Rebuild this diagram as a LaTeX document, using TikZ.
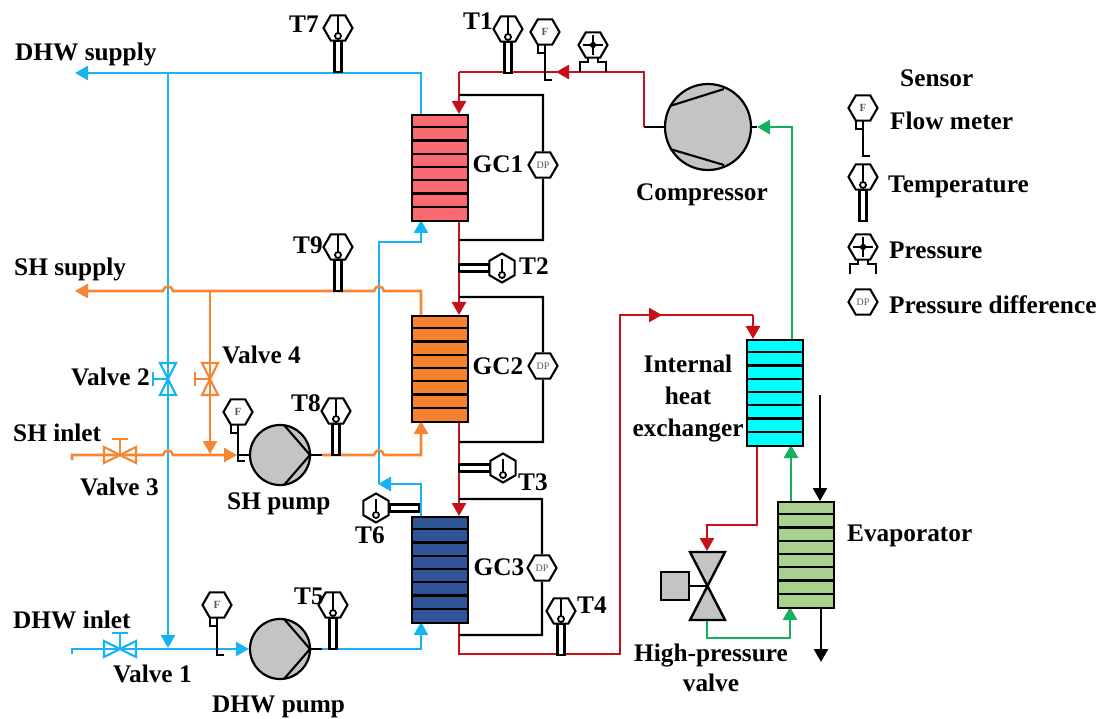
\documentclass[tikz,border=0pt]{standalone}
\usepackage{fontspec}
\setmainfont{Liberation Serif}
\usetikzlibrary{arrows.meta,shapes.geometric,backgrounds}
\definecolor{cblue}{HTML}{16B4F2}
\definecolor{corange}{HTML}{F58634}
\definecolor{cred}{HTML}{C8101A}
\definecolor{cgreen}{HTML}{14B060}
\definecolor{cgray}{HTML}{C4C4C4}
\definecolor{hxa}{HTML}{F96B70}
\definecolor{hxb}{HTML}{F6812E}
\definecolor{hxc}{HTML}{2F5597}
\definecolor{hxd}{HTML}{00FFFF}
\definecolor{hxe}{HTML}{A9D18E}
\tikzset{
  pipe/.style={line width=2.6pt,line join=miter,-{Triangle[width=14pt,length=13pt]}},
  plain/.style={line width=2.6pt,line join=miter},
  wire/.style={line width=2.1pt,black,line join=miter},
  lbl/.style={font=\bfseries\fontsize{25.3}{25.3}\selectfont,inner sep=0pt,text height=21pt,text depth=5pt,text=black},
  hexnode/.style={regular polygon,regular polygon sides=6,draw=black,fill=white,line width=2.1pt,minimum size=29pt,inner sep=0pt,font=\fontsize{10}{10}\selectfont,text=black!65},
  hexup/.style={hexnode,regular polygon rotate=30},
  hxbox/.style={draw=black,line width=2.4pt,minimum width=56pt,minimum height=106pt,anchor=north west,inner sep=0pt},
  pumpnode/.style={circle,draw=black,fill=cgray,line width=2.2pt,inner sep=0pt},
  boxnode/.style={rectangle,draw=black,fill=cgray,line width=2.2pt,minimum width=28pt,minimum height=28pt,inner sep=0pt},
  hopl/.style 2 args={insert path={-- (#1+5,#2) .. controls (#1+4,#2-6) and (#1-4,#2-6) .. (#1-5,#2)}},
  hopr/.style 2 args={insert path={-- (#1-5,#2) .. controls (#1-4,#2-6) and (#1+4,#2-6) .. (#1+5,#2)}},
}
% exchanger: name, left, top, colour
\newcommand{\exch}[4]{%
  \node[hxbox,fill=#4] (#1) at (#2,#3) {};
  \foreach \k in {1,...,7}{\draw[line width=2.1pt,black] (#2,#3+13.25*\k) -- (#2+56,#3+13.25*\k);}
}
% temperature sensor, vertical stem: name, x, bottom y
\newcommand{\tempV}[3]{%
  \draw[wire,fill=white] (#2-3.5,#3) rectangle (#2+3.5,#3-31);
  \node[hexnode] (#1) at (#2,#3-44) {};
  \draw[wire,line width=1.8pt] (#2,#3-56) -- (#2,#3-38);
  \draw[wire,line width=1.8pt,fill=white] (#2,#3-36) circle (3pt);
}
% temperature sensor, horizontal stem: name, hex x, y, stem start x, stem end x
\newcommand{\tempH}[5]{%
  \draw[wire,fill=white] (#4,#3-3.5) rectangle (#5,#3+3.5);
  \node[hexup] (#1) at (#2,#3) {};
  \draw[wire,line width=1.8pt] (#2,#3-9) -- (#2,#3+5);
  \draw[wire,line width=1.8pt,fill=white] (#2,#3+7) circle (3pt);
}
% flow meter: name, x, y, foot y
\newcommand{\flowm}[4]{%
  \draw[wire,line width=1.8pt,fill=white] (#2-7,#3+12) rectangle (#2,#3+21);
  \draw[wire] (#2,#3+12) -- (#2,#4) -- (#2+7,#4);
  \node[hexnode,font=\bfseries\fontsize{11}{11}\selectfont] (#1) at (#2,#3) {F};
}
% pressure sensor: name, x, y
\newcommand{\presm}[3]{%
  \draw[wire] (#2-13,#3+27) -- (#2-13,#3+17) -- (#2-5,#3+17) -- (#2-5,#3+11);
  \draw[wire] (#2+13,#3+27) -- (#2+13,#3+17) -- (#2+5,#3+17) -- (#2+5,#3+11);
  \node[hexnode] (#1) at (#2,#3) {};
  \draw[black,line width=2.4pt] (#2-10,#3) -- (#2+10,#3);
  \draw[black,line width=2.4pt] (#2,#3-10) -- (#2,#3+10);
  \fill[black] (#2-4,#3) -- (#2,#3-4) -- (#2+4,#3) -- (#2,#3+4) -- cycle;
}
% valves: name, x, y, colour
\newcommand{\valveH}[4]{%
  \coordinate (#1) at (#2,#3);
  \draw[#4,line width=2.2pt] (#2-16,#3-8) -- (#2+16,#3+8) -- (#2+16,#3-8) -- (#2-16,#3+8) -- cycle;
  \draw[#4,line width=2.2pt] (#2,#3) -- (#2,#3-16) (#2-8,#3-16) -- (#2+8,#3-16);
}
\newcommand{\valveV}[4]{%
  \coordinate (#1) at (#2,#3);
  \draw[#4,line width=2.2pt] (#2-8,#3-16) -- (#2+8,#3+16) -- (#2-8,#3+16) -- (#2+8,#3-16) -- cycle;
  \draw[#4,line width=2.2pt] (#2,#3) -- (#2-15,#3) (#2-15,#3-7) -- (#2-15,#3+7);
}
\begin{document}
\begin{tikzpicture}[x=1pt,y=-1pt]
\useasboundingbox (0,0) rectangle (1101,719);

% exchangers
\exch{GC1}{411}{114}{hxa}
\exch{GC2}{411}{315}{hxb}
\exch{GC3}{411}{516}{hxc}
\exch{IHX}{746}{339}{hxd}
\exch{EVA}{777}{501}{hxe}

% rotating machines
\node[pumpnode,minimum size=86pt] (COMP) at (708,127) {};
\draw[wire] (670,106) -- (724,89) (670,149) -- (724,165);
\node[pumpnode,minimum size=60pt] (SHP) at (280,455) {};
\draw[wire] (310,455) -- (284,425) (310,455) -- (284,485);
\node[pumpnode,minimum size=60pt] (DHWP) at (280,649) {};
\draw[wire] (310,649) -- (284,619) (310,649) -- (284,679);

% high-pressure valve
\coordinate (HPV) at (707,586);
\draw[black,line width=2.4pt,fill=cgray,line join=miter] (690,552) -- (725,620) -- (690,620) -- (725,552) -- cycle;
\node[boxnode] (HPB) at (675,586) {};
\draw[wire] (HPB.east) -- (HPV);

% sensors
\tempV{T7s}{338}{72}
\tempV{T1s}{508}{73}
\tempV{T9s}{338}{291}
\tempV{T8s}{336}{455}
\tempV{T5s}{333}{649}
\tempV{T4s}{561}{655}
\tempH{T2s}{502}{268}{459}{489}
\tempH{T3s}{503}{468}{459}{490}
\tempH{T6s}{376}{508}{390}{419}
\flowm{F1}{545}{32}{80}
\flowm{F2}{238}{412}{461}
\flowm{F3}{217}{605}{655}
\presm{P1}{593}{45}

% differential pressure sensors
\node[hexnode] (DP1) at (543,165) {DP};
\node[hexnode] (DP2) at (543,366) {DP};
\node[hexnode] (DP3) at (542,568) {DP};

% valves
\valveH{V1}{120}{649}{cblue}
\valveH{V3}{120}{455}{corange}
\valveV{V2}{168}{379}{cblue}
\valveV{V4}{210}{379}{corange}

% free ends and ports
\coordinate (dhwout) at (75,73);
\coordinate (shout) at (75,291);
\coordinate (dhwin) at (72,654);
\coordinate (shin) at (72,460);
\coordinate (branchB) at (168,73);
\coordinate (branchBe) at (168,648);
\coordinate (branchO) at (210,291);
\coordinate (branchOe) at (210,454);

\begin{pgfonlayer}{background}
% DHW water (blue)
\draw[pipe,cblue] (421,114) -- (421,73) -- (dhwout);
\draw[pipe,cblue] (branchB) -- (branchBe);
\draw[pipe,cblue] (dhwin) -- (72,649) -- (V1) -- (DHWP.west);
\draw[pipe,cblue] (DHWP.east) -- (421,649) -- (421,622);
\draw[pipe,cblue] (421,516) -- (421,484) -- (378,484);
\draw[pipe,cblue] (379,484) -- (379,242) -- (421,242) -- (421,220);
% SH water (orange)
\draw[pipe,corange] (421,315) -- (421,291) [hopl={379}{291}] [hopl={168}{291}] -- (shout);
\draw[pipe,corange] (branchO) -- (branchOe);
\draw[pipe,corange] (shin) -- (72,455) [hopr={168}{455}] -- (237,455);
\draw[pipe,corange] (322,455) [hopr={379}{455}] -- (421,455) -- (421,421);
\draw[wire] (238,455) -- (SHP.west);
\draw[wire] (SHP.east) -- (322,455);
\draw[wire] (DHWP.east) -- (322,649);
% refrigerant (red)
\draw[plain,cred] (644,127) -- (644,72) -- (459,72);
\draw[pipe,cred] (644,72) -- (556,72);
\draw[pipe,cred] (459,72) -- (459,114);
\draw[pipe,cred] (459,220) -- (459,315);
\draw[pipe,cred] (459,421) -- (459,516);
\draw[plain,cred] (459,622) -- (459,654) -- (620,654) -- (620,315) -- (753,315);
\draw[pipe,cred] (620,315) -- (662,315);
\draw[pipe,cred] (753,315) -- (753,339);
\draw[pipe,cred] (757,445) -- (757,525) -- (707,525) -- (707,551);
\draw[wire] (COMP.west) -- (644,127);
% refrigerant (green)
\draw[pipe,cgreen] (707,620) -- (707,638) -- (790,638) -- (790,607);
\draw[pipe,cgreen] (791,501) -- (791,445);
\draw[pipe,cgreen] (792,339) -- (792,127) -- (757,127);
\draw[wire] (COMP.east) -- (757,127);
% evaporator secondary
\draw[pipe,black] (820,395) -- (820,501);
\draw[pipe,black] (821,607) -- (821,662);
% pressure-difference loops
\draw[wire] (459,95) -- (543,95) -- (DP1.north);
\draw[wire] (DP1.south) -- (543,240) -- (459,240);
\draw[wire] (459,297) -- (543,297) -- (DP2.north);
\draw[wire] (DP2.south) -- (543,442) -- (459,442);
\draw[wire] (459,499) -- (542,499) -- (DP3.north);
\draw[wire] (DP3.south) -- (542,635) -- (459,635);
\end{pgfonlayer}

% legend
\flowm{LF}{863}{108}{156}
\tempV{LT}{863}{221}
\presm{LP}{863}{247}
\node[hexnode] (LD) at (863,302) {DP};

% labels
\node[lbl,anchor=west] (tDHWs) at (15,53) {DHW supply};
\node[lbl,anchor=west] (tSHs) at (14,268) {SH supply};
\node[lbl,anchor=west] (tSHi) at (13,433) {SH inlet};
\node[lbl,anchor=west] (tDHWi) at (13,620) {DHW inlet};
\node[lbl,anchor=west] (tV1) at (113,674) {Valve 1};
\node[lbl,anchor=west] (tV2) at (71,378) {Valve 2};
\node[lbl,anchor=west] (tV3) at (80,487) {Valve 3};
\node[lbl,anchor=west] (tV4) at (222,355) {Valve 4};
\node[lbl,anchor=west] (tSHp) at (227,501) {SH pump};
\node[lbl,anchor=west] (tDHWp) at (212,704.5) {DHW pump};
\node[lbl,anchor=west] (t1) at (463,22) {T1};
\node[lbl,anchor=west] (t2) at (519,267) {T2};
\node[lbl,anchor=west] (t3) at (518,482) {T3};
\node[lbl,anchor=west] (t4) at (577,605) {T4};
\node[lbl,anchor=west] (t5) at (294,596) {T5};
\node[lbl,anchor=west] (t6) at (355,535) {T6};
\node[lbl,anchor=west] (t7) at (289,25) {T7};
\node[lbl,anchor=west] (t8) at (291,404) {T8};
\node[lbl,anchor=west] (t9) at (293,246) {T9};
\node[lbl] (g1) at (498,165) {GC1};
\node[lbl] (g2) at (498,367) {GC2};
\node[lbl] (g3) at (499,567) {GC3};
\node[lbl] (tC) at (702,193) {Compressor};
\node[lbl] (tI1) at (688,365) {Internal};
\node[lbl] (tI2) at (688,397) {heat};
\node[lbl] (tI3) at (688,428) {exchanger};
\node[lbl,anchor=west] (tE) at (847,533) {Evaporator};
\node[lbl] (tH1) at (711,653) {High-pressure};
\node[lbl] (tH2) at (711,683) {valve};
\node[lbl,anchor=west] (tS) at (900,79) {Sensor};
\node[lbl,anchor=west] (lF) at (890,122) {Flow meter};
\node[lbl,anchor=west] (lT) at (888,185) {Temperature};
\node[lbl,anchor=west] (lP) at (889,251) {Pressure};
\node[lbl,anchor=west] (lD2) at (889,306) {Pressure difference};
\end{tikzpicture}
\end{document}
